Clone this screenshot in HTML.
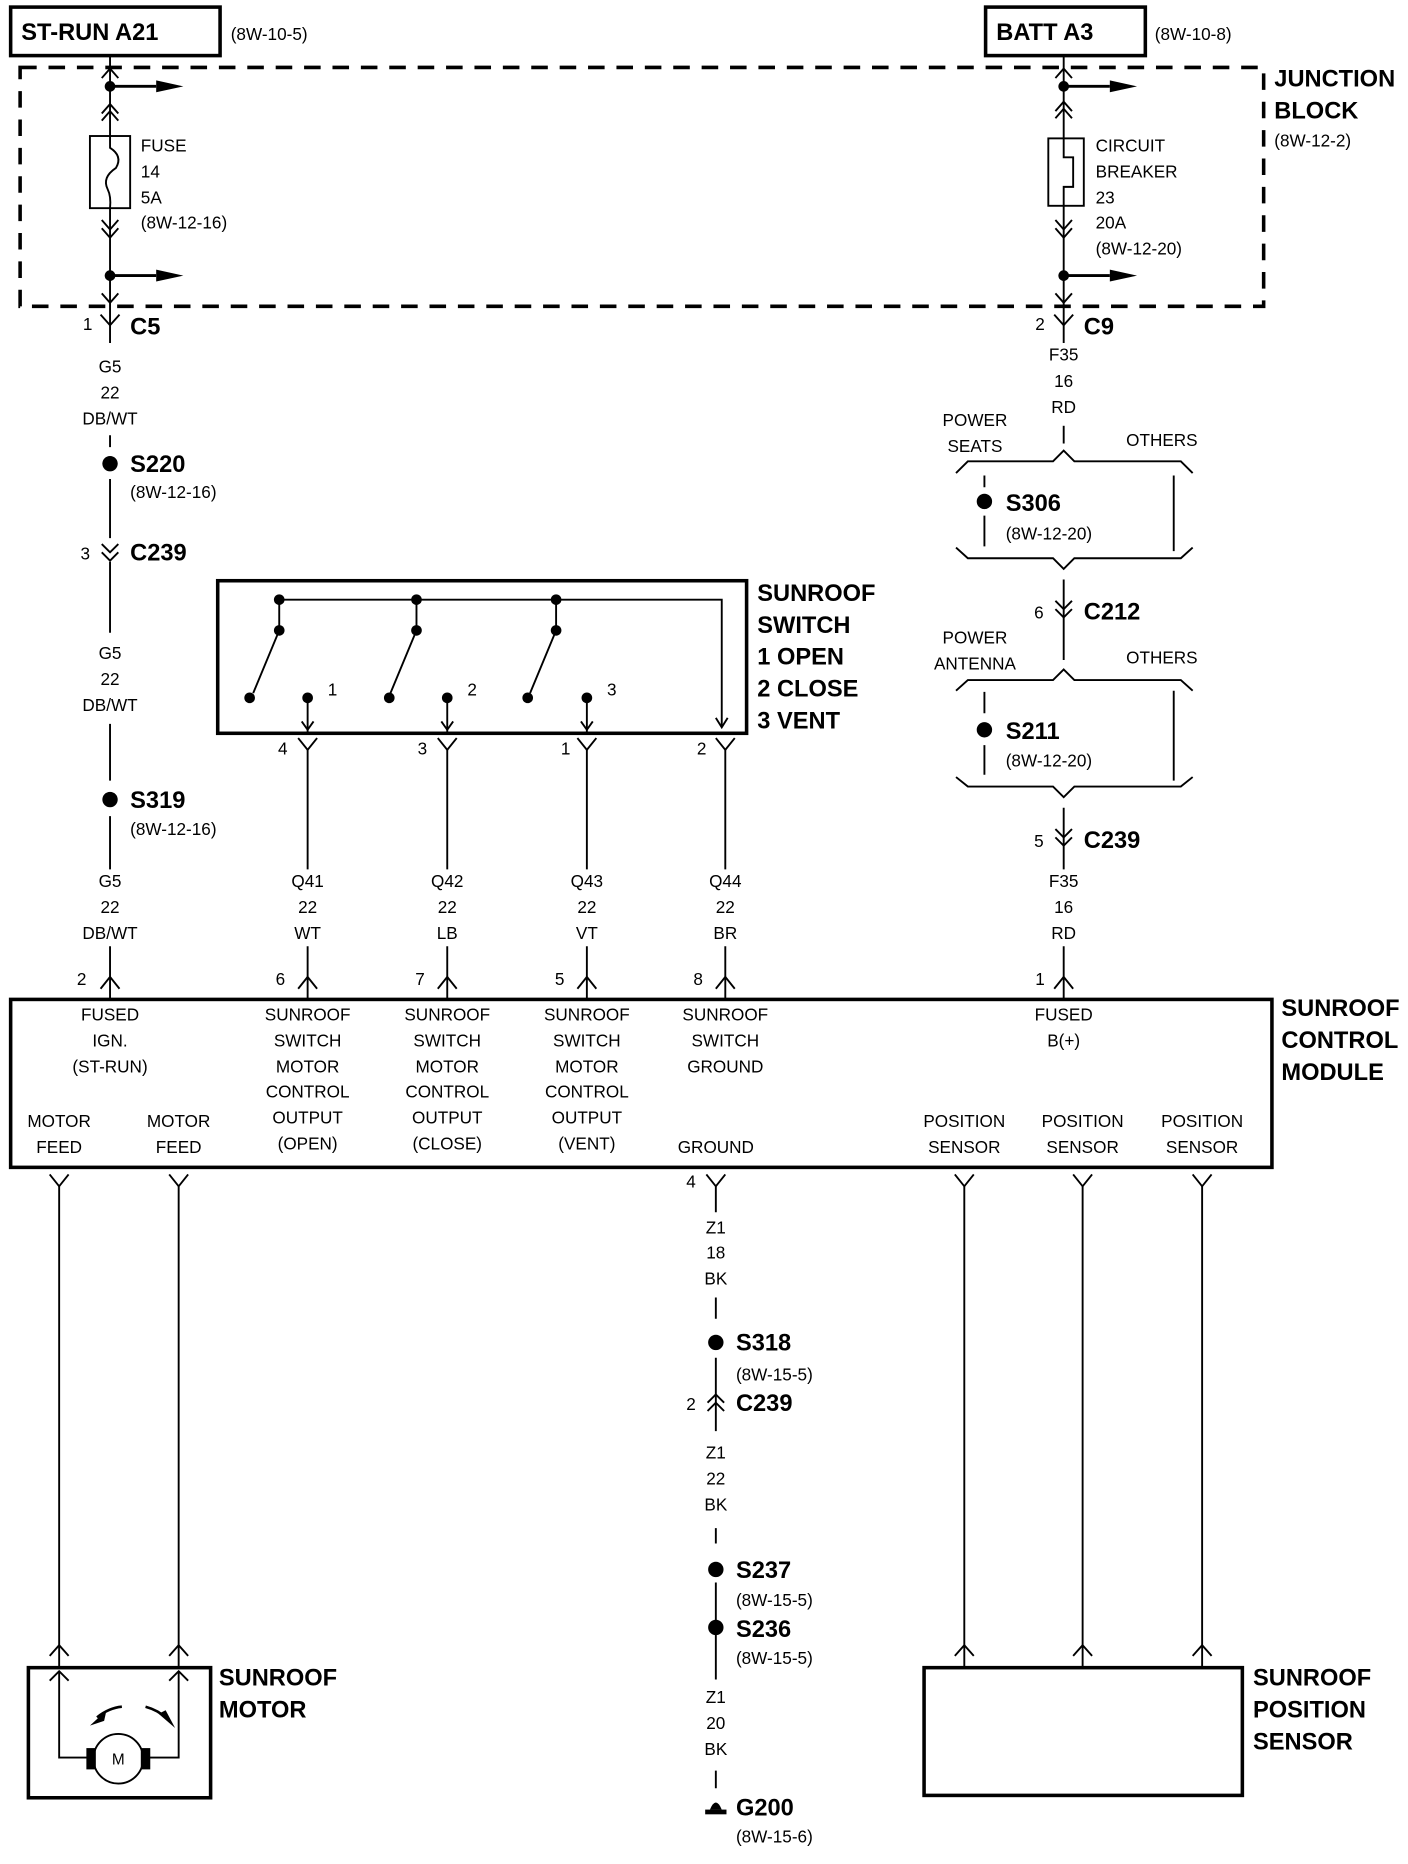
<!DOCTYPE html>
<html><head><meta charset="utf-8"><style>
html,body{margin:0;padding:0;background:#fff;}
svg{display:block;}
text{font-family:"Liberation Sans",sans-serif;fill:#000;}
.s{font-size:14.5px;}
.b{font-size:20px;font-weight:bold;}
.c{text-anchor:middle;}
</style></head><body>
<svg width="1408" height="1864" viewBox="0 0 1190 1576" preserveAspectRatio="none" xmlns="http://www.w3.org/2000/svg">
<g stroke="#000" stroke-width="1.6" fill="none">
<rect x="9" y="6" width="177" height="41" stroke-width="3"/>
<rect x="833" y="6" width="135" height="41" stroke-width="3"/>
<rect x="17" y="57" width="1051" height="202" stroke-width="3" stroke-dasharray="14,10"/>

<path d="M93 47 V290"/>
<path d="M86 66 L93 58 L100 66 M86 96 L93 88 L100 96 M86 102 L93 94 L100 102"/>
<path d="M93 73 H132" stroke-width="2.4"/>
<rect x="76" y="115" width="34" height="61" fill="#fff"/>
<path d="M93 115 V125 Q104 132 98 142 Q86 150 91 160 Q94 166 93 176"/>
<path d="M86 186 L93 194 L100 186 M86 193 L93 201 L100 193"/>
<path d="M93 233 H132" stroke-width="2.4"/>
<path d="M86 248 L93 256 L100 248"/>
<path d="M85 266 L93 275 L101 266"/>
<path d="M93 368 V378 M93 405 V455 M93 475 V535 M93 612 V660 M93 690 V735 M93 800 V845"/>
<path d="M86 460 L93 467 L100 460 M86 467 L93 474 L100 467"/>
<path d="M85 836 L93 826 L101 836"/>

<path d="M899 47 V290"/>
<path d="M892 66 L899 58 L906 66 M892 94 L899 86 L906 94 M892 100 L899 92 L906 100"/>
<path d="M899 73 H938" stroke-width="2.4"/>
<rect x="886" y="117" width="30" height="57" fill="#fff"/>
<path d="M899 117 V133 H907 V158 H899 V174"/>
<path d="M892 186 L899 194 L906 186 M892 193 L899 201 L906 193"/>
<path d="M899 233 H938" stroke-width="2.4"/>
<path d="M892 248 L899 256 L906 248"/>
<path d="M891 266 L899 275 L907 266"/>
<path d="M899 360 V375"/>
<path d="M808 400 L818 390 L890 390 L899 381 L908 390 L998 390 L1008 400"/>
<path d="M808 463 L818 472 L890 472 L899 481 L908 472 L998 472 L1008 463"/>
<path d="M832 402 V412 M832 436 V462 M992 402 V466"/>
<path d="M899 490 V558"/>
<path d="M892 508 L899 515 L906 508 M892 515 L899 522 L906 515"/>
<path d="M808 584 L818 575 L890 575 L899 566 L908 575 L998 575 L1008 584"/>
<path d="M808 657 L818 665 L890 665 L899 674 L908 665 L998 665 L1008 657"/>
<path d="M832 585 V603 M832 630 V655 M992 584 V660"/>
<path d="M899 683 V735 M899 800 V845"/>
<path d="M892 701 L899 708 L906 701 M892 708 L899 715 L906 708"/>
<path d="M891 836 L899 826 L907 836"/>

<rect x="184" y="491" width="447" height="129" stroke-width="3"/>
<path d="M236 533 V507 H610 V614"/>
<path d="M352 507 V533 M470 507 V533"/>
<path d="M236 533 L214 586 M352 533 L330 586 M470 533 L448 586"/>
<path d="M260 590 V620 M378 590 V620 M496 590 V620"/>
<path d="M255 610 L260 617 L265 610 M373 610 L378 617 L383 610 M491 610 L496 617 L501 610 M605 607 L610 615 L615 607"/>
<path d="M252 624 L260 634 L268 624 M370 624 L378 634 L386 624 M488 624 L496 634 L504 624 M605 624 L613 634 L621 624"/>
<path d="M260 634 V735 M378 634 V735 M496 634 V735 M613 634 V735 M260 800 V845 M378 800 V845 M496 800 V845 M613 800 V845"/>
<path d="M252 836 L260 826 L268 836 M370 836 L378 826 L386 836 M488 836 L496 826 L504 836 M605 836 L613 826 L621 836"/>

<rect x="9" y="845" width="1066" height="142" stroke-width="3"/>
<path d="M42 993 L50 1003 L58 993 M143 993 L151 1003 L159 993 M597 993 L605 1003 L613 993 M807 993 L815 1003 L823 993 M907 993 L915 1003 L923 993 M1008 993 L1016 1003 L1024 993"/>
<path d="M50 1003 V1410 M151 1003 V1410 M815 1003 V1410 M915 1003 V1410 M1016 1003 V1410"/>
<path d="M42 1400 L50 1391 L58 1400 M143 1400 L151 1391 L159 1400 M807 1400 L815 1391 L823 1400 M907 1400 L915 1391 L923 1400 M1008 1400 L1016 1391 L1024 1400"/>

<rect x="24" y="1410" width="154" height="110" stroke-width="3"/>
<path d="M42 1421 L50 1413 L58 1421 M143 1421 L151 1413 L159 1421"/>
<path d="M50 1413 V1486 H74 M151 1413 V1486 H126"/>
<circle cx="100" cy="1487" r="21"/>
<path d="M82 1452 Q92 1444 103 1443 M123 1443 Q134 1446 141 1453" stroke-width="2.2"/>

<rect x="781" y="1410" width="269" height="108" stroke-width="3"/>

<path d="M605 1003 V1025 M605 1097 V1115 M605 1148 V1210 M605 1292 V1305 M605 1338 V1420 M605 1497 V1512"/>
<path d="M598 1186 L605 1179 L612 1186 M598 1193 L605 1186 L612 1193"/>
</g>
<g fill="#000">
<polygon points="132,68 155,73 132,78"/><polygon points="132,228 155,233 132,238"/>
<polygon points="938,68 961,73 938,78"/><polygon points="938,228 961,233 938,238"/>
<circle cx="93" cy="73" r="4.5"/><circle cx="93" cy="233" r="4.5"/>
<circle cx="899" cy="73" r="4.5"/><circle cx="899" cy="233" r="4.5"/>
<circle cx="93" cy="392" r="6.5"/><circle cx="93" cy="676" r="6.5"/>
<circle cx="832" cy="424" r="6.5"/><circle cx="832" cy="617" r="6.5"/>
<circle cx="605" cy="1135" r="6.5"/><circle cx="605" cy="1327" r="6.5"/><circle cx="605" cy="1376" r="6.5"/>
<circle cx="236" cy="507" r="4.5"/><circle cx="352" cy="507" r="4.5"/><circle cx="470" cy="507" r="4.5"/>
<circle cx="236" cy="533" r="4.5"/><circle cx="352" cy="533" r="4.5"/><circle cx="470" cy="533" r="4.5"/>
<circle cx="211" cy="590" r="4.5"/><circle cx="329" cy="590" r="4.5"/><circle cx="446" cy="590" r="4.5"/>
<circle cx="260" cy="590" r="4.5"/><circle cx="378" cy="590" r="4.5"/><circle cx="496" cy="590" r="4.5"/>
<rect x="73" y="1478" width="8" height="18"/><rect x="119" y="1478" width="8" height="18"/>
<polygon points="76,1459 90,1446 88,1455"/><polygon points="148,1461 134,1449 140,1446"/>
<rect x="596" y="1530" width="18" height="4"/><path d="M600 1530 Q605 1518 610 1530Z"/>
</g>

<text x="18" y="34" class="b">ST-RUN A21</text>
<text x="195" y="34" class="s">(8W-10-5)</text>
<text x="842" y="34" class="b">BATT A3</text>
<text x="976" y="34" class="s">(8W-10-8)</text>
<text x="1077" y="73" class="b">JUNCTION</text>
<text x="1077" y="100" class="b">BLOCK</text>
<text x="1077" y="124" class="s">(8W-12-2)</text>

<text x="119" y="128" class="s">FUSE</text><text x="119" y="150" class="s">14</text><text x="119" y="172" class="s">5A</text><text x="119" y="193" class="s">(8W-12-16)</text>
<text x="926" y="128" class="s">CIRCUIT</text><text x="926" y="150" class="s">BREAKER</text><text x="926" y="172" class="s">23</text><text x="926" y="193" class="s">20A</text><text x="926" y="215" class="s">(8W-12-20)</text>

<text x="70" y="279" class="s">1</text><text x="110" y="283" class="b">C5</text>
<text x="93" y="315" class="s c">G5</text><text x="93" y="337" class="s c">22</text><text x="93" y="359" class="s c">DB/WT</text>
<text x="110" y="399" class="b">S220</text><text x="110" y="421" class="s">(8W-12-16)</text>
<text x="68" y="473" class="s">3</text><text x="110" y="474" class="b">C239</text>
<text x="93" y="557" class="s c">G5</text><text x="93" y="579" class="s c">22</text><text x="93" y="601" class="s c">DB/WT</text>
<text x="110" y="683" class="b">S319</text><text x="110" y="706" class="s">(8W-12-16)</text>
<text x="93" y="750" class="s c">G5</text><text x="93" y="772" class="s c">22</text><text x="93" y="794" class="s c">DB/WT</text>

<text x="875" y="279" class="s">2</text><text x="916" y="283" class="b">C9</text>
<text x="899" y="305" class="s c">F35</text><text x="899" y="327" class="s c">16</text><text x="899" y="349" class="s c">RD</text>
<text x="824" y="360" class="s c">POWER</text><text x="824" y="382" class="s c">SEATS</text><text x="982" y="377" class="s c">OTHERS</text>
<text x="850" y="432" class="b">S306</text><text x="850" y="456" class="s">(8W-12-20)</text>
<text x="874" y="523" class="s">6</text><text x="916" y="524" class="b">C212</text>
<text x="824" y="544" class="s c">POWER</text><text x="824" y="566" class="s c">ANTENNA</text><text x="982" y="561" class="s c">OTHERS</text>
<text x="850" y="625" class="b">S211</text><text x="850" y="648" class="s">(8W-12-20)</text>
<text x="874" y="716" class="s">5</text><text x="916" y="717" class="b">C239</text>
<text x="899" y="750" class="s c">F35</text><text x="899" y="772" class="s c">16</text><text x="899" y="794" class="s c">RD</text>

<text x="640" y="508" class="b">SUNROOF</text><text x="640" y="535" class="b">SWITCH</text><text x="640" y="562" class="b">1 OPEN</text><text x="640" y="589" class="b">2 CLOSE</text><text x="640" y="616" class="b">3 VENT</text>
<text x="277" y="588" class="s">1</text><text x="395" y="588" class="s">2</text><text x="513" y="588" class="s">3</text>
<text x="235" y="638" class="s">4</text><text x="353" y="638" class="s">3</text><text x="474" y="638" class="s">1</text><text x="589" y="638" class="s">2</text>

<text x="260" y="750" class="s c">Q41</text><text x="260" y="772" class="s c">22</text><text x="260" y="794" class="s c">WT</text>
<text x="378" y="750" class="s c">Q42</text><text x="378" y="772" class="s c">22</text><text x="378" y="794" class="s c">LB</text>
<text x="496" y="750" class="s c">Q43</text><text x="496" y="772" class="s c">22</text><text x="496" y="794" class="s c">VT</text>
<text x="613" y="750" class="s c">Q44</text><text x="613" y="772" class="s c">22</text><text x="613" y="794" class="s c">BR</text>
<text x="65" y="833" class="s">2</text><text x="233" y="833" class="s">6</text><text x="351" y="833" class="s">7</text><text x="469" y="833" class="s">5</text><text x="586" y="833" class="s">8</text><text x="875" y="833" class="s">1</text>

<text x="1083" y="859" class="b">SUNROOF</text><text x="1083" y="886" class="b">CONTROL</text><text x="1083" y="913" class="b">MODULE</text>
<g>
<text x="93" y="863" class="s c">FUSED</text><text x="93" y="885" class="s c">IGN.</text><text x="93" y="907" class="s c">(ST-RUN)</text>
<text x="260" y="863" class="s c">SUNROOF</text><text x="260" y="885" class="s c">SWITCH</text><text x="260" y="907" class="s c">MOTOR</text><text x="260" y="928" class="s c">CONTROL</text><text x="260" y="950" class="s c">OUTPUT</text><text x="260" y="972" class="s c">(OPEN)</text>
<text x="378" y="863" class="s c">SUNROOF</text><text x="378" y="885" class="s c">SWITCH</text><text x="378" y="907" class="s c">MOTOR</text><text x="378" y="928" class="s c">CONTROL</text><text x="378" y="950" class="s c">OUTPUT</text><text x="378" y="972" class="s c">(CLOSE)</text>
<text x="496" y="863" class="s c">SUNROOF</text><text x="496" y="885" class="s c">SWITCH</text><text x="496" y="907" class="s c">MOTOR</text><text x="496" y="928" class="s c">CONTROL</text><text x="496" y="950" class="s c">OUTPUT</text><text x="496" y="972" class="s c">(VENT)</text>
<text x="613" y="863" class="s c">SUNROOF</text><text x="613" y="885" class="s c">SWITCH</text><text x="613" y="907" class="s c">GROUND</text>
<text x="899" y="863" class="s c">FUSED</text><text x="899" y="885" class="s c">B(+)</text>
<text x="50" y="953" class="s c">MOTOR</text><text x="50" y="975" class="s c">FEED</text>
<text x="151" y="953" class="s c">MOTOR</text><text x="151" y="975" class="s c">FEED</text>
<text x="605" y="975" class="s c">GROUND</text>
<text x="815" y="953" class="s c">POSITION</text><text x="815" y="975" class="s c">SENSOR</text>
<text x="915" y="953" class="s c">POSITION</text><text x="915" y="975" class="s c">SENSOR</text>
<text x="1016" y="953" class="s c">POSITION</text><text x="1016" y="975" class="s c">SENSOR</text>
</g>

<text x="580" y="1004" class="s">4</text>
<text x="605" y="1043" class="s c">Z1</text><text x="605" y="1064" class="s c">18</text><text x="605" y="1086" class="s c">BK</text>
<text x="622" y="1142" class="b">S318</text><text x="622" y="1167" class="s">(8W-15-5)</text>
<text x="580" y="1192" class="s">2</text><text x="622" y="1193" class="b">C239</text>
<text x="605" y="1233" class="s c">Z1</text><text x="605" y="1255" class="s c">22</text><text x="605" y="1277" class="s c">BK</text>
<text x="622" y="1334" class="b">S237</text><text x="622" y="1358" class="s">(8W-15-5)</text>
<text x="622" y="1384" class="b">S236</text><text x="622" y="1407" class="s">(8W-15-5)</text>
<text x="605" y="1440" class="s c">Z1</text><text x="605" y="1462" class="s c">20</text><text x="605" y="1484" class="s c">BK</text>
<text x="622" y="1535" class="b">G200</text><text x="622" y="1558" class="s">(8W-15-6)</text>

<text x="100" y="1492" class="c" style="font-size:13px">M</text>
<text x="185" y="1425" class="b">SUNROOF</text><text x="185" y="1452" class="b">MOTOR</text>
<text x="1059" y="1425" class="b">SUNROOF</text><text x="1059" y="1452" class="b">POSITION</text><text x="1059" y="1479" class="b">SENSOR</text>
</svg>
</body></html>
